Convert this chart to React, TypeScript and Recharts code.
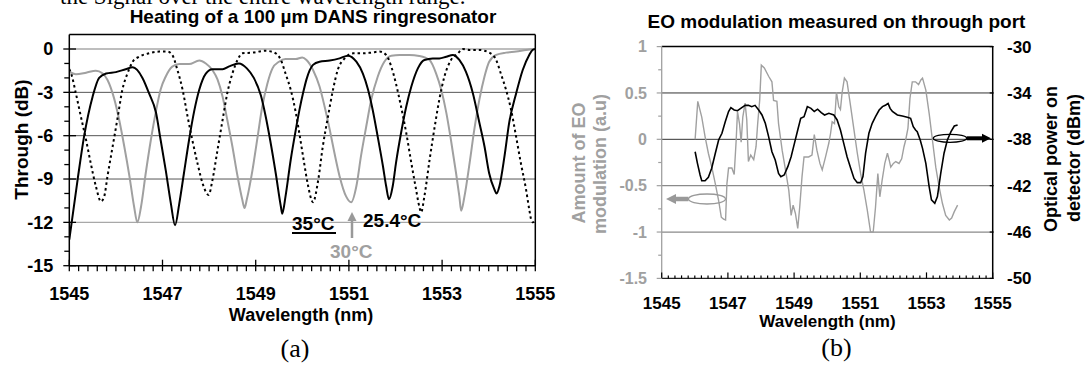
import React from 'react';
import { LineChart, Line, XAxis, YAxis, ReferenceLine } from 'recharts';

const SANS = '"Liberation Sans", Arial, sans-serif';
const SERIF = '"Liberation Serif", "Times New Roman", serif';

// ---------- shared tick labels ----------
const wavelengthTicks = [1545, 1547, 1549, 1551, 1553, 1555];
const throughTicks = [0, -3, -6, -9, -12, -15];
const eoTicks = [1, 0.5, 0, -0.5, -1, -1.5];
const powerTicks = [-30, -34, -38, -42, -46, -50];

// ---------- chart (a): through-port transmission (wavelength nm, dB) ----------
const trace25C: [number, number][] = [
  [1545.0, -1.4], [1545.04, -1.7], [1545.14, -3.06], [1545.25, -4.7], [1545.36, -6.3], [1545.46, -7.9],
  [1545.57, -9.5], [1545.68, -10.55], [1545.75, -10.2], [1545.82, -8.8], [1545.93, -6.75], [1546.04, -4.7],
  [1546.14, -2.8], [1546.25, -1.68], [1546.36, -0.88], [1546.5, -0.53], [1546.71, -0.3], [1546.93, -0.18],
  [1547.11, -0.18], [1547.21, -0.41], [1547.32, -1.45], [1547.43, -2.8], [1547.54, -4.7], [1547.64, -6.3],
  [1547.75, -7.9], [1547.86, -9.3], [1547.99, -10.1], [1548.07, -9.1], [1548.18, -7.0], [1548.29, -4.9],
  [1548.39, -3.06], [1548.5, -1.7], [1548.61, -0.76], [1548.71, -0.3], [1548.93, -0.25], [1549.21, -0.12],
  [1549.43, -0.3], [1549.54, -0.76], [1549.64, -1.7], [1549.75, -2.8], [1549.86, -4.4], [1549.96, -6.3],
  [1550.04, -7.9], [1550.12, -9.4], [1550.23, -10.6], [1550.34, -9.1], [1550.44, -6.75], [1550.55, -4.7],
  [1550.66, -2.8], [1550.76, -1.45], [1550.91, -0.65], [1551.09, -0.3], [1551.3, -0.3], [1551.48, -0.25],
  [1551.66, -0.18], [1551.8, -0.41], [1551.91, -1.22], [1552.01, -2.4], [1552.12, -4.0], [1552.23, -5.8],
  [1552.34, -7.9], [1552.44, -9.7], [1552.51, -10.9], [1552.55, -11.3], [1552.62, -10.2], [1552.73, -7.7],
  [1552.84, -5.4], [1552.94, -3.5], [1553.05, -1.9], [1553.19, -0.76], [1553.34, -0.3], [1553.44, 0.0],
  [1553.59, -0.07], [1553.8, -0.07], [1554.01, -0.25], [1554.16, -0.76], [1554.26, -1.7], [1554.37, -2.8],
  [1554.48, -4.2], [1554.59, -6.1], [1554.69, -7.9], [1554.8, -9.7], [1554.87, -11.1], [1554.92, -11.9],
  [1554.95, -12.0], [1555.0, -11.8],
];

const trace30C: [number, number][] = [
  [1545.0, -1.57], [1545.14, -1.75], [1545.36, -1.64], [1545.57, -1.5], [1545.71, -1.68], [1545.82, -2.14],
  [1545.96, -3.4], [1546.07, -4.9], [1546.18, -6.75], [1546.29, -8.8], [1546.39, -10.9], [1546.46, -12.0],
  [1546.54, -10.9], [1546.64, -8.6], [1546.75, -6.3], [1546.86, -4.3], [1546.96, -2.8], [1547.07, -1.9],
  [1547.21, -1.22], [1547.36, -1.04], [1547.57, -1.04], [1547.79, -0.8], [1547.93, -1.0], [1548.07, -1.45],
  [1548.18, -2.1], [1548.29, -3.3], [1548.39, -4.9], [1548.5, -6.75], [1548.61, -8.8], [1548.71, -10.4],
  [1548.76, -11.0], [1548.81, -10.4], [1548.93, -8.4], [1549.04, -6.1], [1549.14, -4.0], [1549.25, -2.4],
  [1549.36, -1.34], [1549.5, -0.88], [1549.64, -0.7], [1549.86, -0.7], [1550.0, -0.58], [1550.09, -0.76],
  [1550.23, -1.45], [1550.37, -2.6], [1550.48, -4.0], [1550.59, -5.6], [1550.69, -7.2], [1550.8, -8.8],
  [1550.94, -10.2], [1551.05, -10.6], [1551.16, -9.5], [1551.26, -7.4], [1551.37, -5.4], [1551.48, -3.5],
  [1551.62, -1.9], [1551.76, -0.88], [1551.91, -0.46], [1552.09, -0.41], [1552.3, -0.41], [1552.51, -0.48],
  [1552.73, -0.76], [1552.87, -1.68], [1552.98, -2.8], [1553.09, -4.4], [1553.19, -6.3], [1553.3, -8.6],
  [1553.37, -10.2], [1553.41, -11.2], [1553.48, -10.2], [1553.59, -7.9], [1553.69, -5.6], [1553.8, -3.5],
  [1553.91, -1.9], [1554.01, -0.88], [1554.16, -0.41], [1554.37, -0.25], [1554.59, -0.18], [1554.8, -0.07],
  [1555.0, 0.0],
];

const trace35C: [number, number][] = [
  [1545.0, -13.2], [1545.18, -9.0], [1545.32, -6.0], [1545.5, -3.3], [1545.64, -2.0], [1545.79, -1.7],
  [1546.0, -1.6], [1546.21, -1.4], [1546.36, -1.27], [1546.57, -2.0], [1546.71, -3.06], [1546.86, -4.4],
  [1546.96, -6.3], [1547.07, -8.4], [1547.18, -10.7], [1547.27, -12.2], [1547.36, -10.7], [1547.46, -8.6],
  [1547.57, -6.3], [1547.68, -4.3], [1547.79, -2.8], [1547.93, -1.7], [1548.07, -1.4], [1548.29, -1.4],
  [1548.43, -1.2], [1548.64, -1.0], [1548.81, -1.34], [1548.96, -2.0], [1549.11, -3.2], [1549.21, -4.6],
  [1549.31, -6.3], [1549.43, -8.6], [1549.54, -10.9], [1549.57, -11.4], [1549.64, -10.2], [1549.75, -7.7],
  [1549.86, -5.6], [1549.94, -4.2], [1550.02, -3.0], [1550.09, -2.1], [1550.23, -1.1], [1550.37, -0.88],
  [1550.59, -0.8], [1550.8, -0.65], [1550.98, -0.46], [1551.16, -0.88], [1551.3, -1.7], [1551.41, -2.8],
  [1551.51, -4.2], [1551.62, -6.1], [1551.73, -8.1], [1551.8, -9.5], [1551.86, -10.4], [1551.94, -9.5],
  [1552.01, -7.9], [1552.12, -5.8], [1552.23, -4.0], [1552.34, -2.6], [1552.48, -1.34], [1552.62, -0.76],
  [1552.8, -0.65], [1552.94, -0.65], [1553.09, -0.53], [1553.23, -0.41], [1553.37, -0.76], [1553.51, -1.57],
  [1553.66, -3.06], [1553.8, -5.1], [1553.91, -6.75], [1554.01, -8.6], [1554.12, -9.7], [1554.17, -10.0],
  [1554.23, -9.5], [1554.34, -7.4], [1554.44, -5.1], [1554.59, -3.06], [1554.73, -1.45], [1554.87, -0.41],
  [1554.94, -0.07], [1555.0, 0.0],
];

// ---------- chart (b): EO modulation (a.u.) and optical power (dBm) ----------
const eoModulation: [number, number][] = [
  [1546.01, 0.0], [1546.09, 0.41], [1546.21, 0.24], [1546.31, 0.03], [1546.41, -0.15], [1546.52, -0.31],
  [1546.62, -0.48], [1546.72, -0.66], [1546.8, -0.84], [1546.87, -0.86], [1546.93, -0.87], [1546.97, -0.48],
  [1547.02, -0.31], [1547.12, -0.31], [1547.19, -0.38], [1547.25, -0.01], [1547.29, 0.3], [1547.35, 0.17],
  [1547.4, -0.03], [1547.45, 0.24], [1547.52, 0.39], [1547.57, 0.21], [1547.62, -0.24], [1547.69, -0.17],
  [1547.78, -0.22], [1547.85, -0.08], [1547.9, 0.17], [1547.96, 0.42], [1548.01, 0.8], [1548.1, 0.77],
  [1548.23, 0.68], [1548.33, 0.62], [1548.38, 0.42], [1548.48, 0.41], [1548.53, 0.17], [1548.64, -0.12],
  [1548.74, -0.33], [1548.84, -0.55], [1548.91, -0.82], [1548.97, -0.71], [1549.04, -0.8], [1549.11, -0.96],
  [1549.17, -0.73], [1549.24, -0.4], [1549.3, -0.19], [1549.44, -0.19], [1549.54, -0.17], [1549.61, 0.05],
  [1549.69, -0.12], [1549.78, -0.26], [1549.85, -0.33], [1549.95, -0.19], [1550.05, -0.04], [1550.1, 0.06],
  [1550.15, 0.19], [1550.22, 0.17], [1550.28, 0.51], [1550.35, 0.35], [1550.4, 0.32], [1550.45, 0.5],
  [1550.52, 0.66], [1550.6, 0.62], [1550.71, 0.35], [1550.81, 0.1], [1550.91, -0.15], [1551.01, -0.37],
  [1551.11, -0.55], [1551.21, -0.76], [1551.31, -1.0], [1551.39, -1.0], [1551.46, -0.73], [1551.53, -0.37],
  [1551.59, -0.62], [1551.66, -0.44], [1551.74, -0.26], [1551.82, -0.15], [1551.87, -0.22], [1551.92, -0.3],
  [1552.0, -0.26], [1552.07, -0.24], [1552.17, -0.26], [1552.25, -0.21], [1552.32, -0.08], [1552.37, -0.01],
  [1552.44, 0.12], [1552.5, 0.44], [1552.57, 0.62], [1552.67, 0.62], [1552.76, 0.59], [1552.83, 0.64],
  [1552.88, 0.66], [1552.98, 0.53], [1553.08, 0.28], [1553.18, -0.01], [1553.28, -0.3], [1553.38, -0.51],
  [1553.48, -0.69], [1553.58, -0.82], [1553.69, -0.87], [1553.76, -0.85], [1553.84, -0.78], [1553.94, -0.71],
];

const opticalPower: [number, number][] = [
  [1546.01, -39.07], [1546.08, -40.07], [1546.16, -41.08], [1546.21, -41.57], [1546.31, -41.57], [1546.41, -41.28],
  [1546.51, -40.5], [1546.62, -39.2], [1546.72, -38.06], [1546.82, -37.48], [1546.92, -36.48], [1547.02, -35.6],
  [1547.09, -35.27], [1547.19, -35.47], [1547.29, -35.53], [1547.42, -35.27], [1547.52, -35.07], [1547.62, -35.07],
  [1547.72, -35.18], [1547.82, -35.07], [1547.93, -35.47], [1548.03, -35.9], [1548.13, -36.62], [1548.23, -37.77],
  [1548.33, -39.07], [1548.43, -39.79], [1548.53, -40.94], [1548.6, -41.22], [1548.7, -41.08], [1548.81, -40.36],
  [1548.91, -39.5], [1549.01, -38.35], [1549.11, -37.2], [1549.2, -36.19], [1549.3, -36.05], [1549.4, -35.18],
  [1549.51, -35.33], [1549.61, -35.6], [1549.71, -35.4], [1549.82, -35.7], [1549.92, -35.9], [1550.05, -35.76],
  [1550.2, -35.9], [1550.3, -36.33], [1550.4, -37.2], [1550.5, -38.35], [1550.6, -39.5], [1550.71, -40.5],
  [1550.81, -41.37], [1550.91, -41.74], [1551.01, -41.74], [1551.08, -41.22], [1551.16, -39.2], [1551.26, -37.48],
  [1551.36, -36.62], [1551.46, -36.05], [1551.57, -35.47], [1551.67, -35.18], [1551.77, -35.04], [1551.84, -34.9],
  [1551.9, -35.33], [1551.97, -35.6], [1552.12, -35.9], [1552.27, -35.99], [1552.42, -36.1], [1552.52, -36.19],
  [1552.6, -36.91], [1552.67, -37.2], [1552.72, -37.34], [1552.81, -38.06], [1552.88, -38.78], [1552.98, -40.07],
  [1553.08, -42.08], [1553.15, -43.23], [1553.25, -43.52], [1553.33, -42.94], [1553.43, -40.94], [1553.53, -39.2],
  [1553.63, -38.06], [1553.74, -37.34], [1553.84, -36.85], [1553.94, -36.76],
];

// ---------- helpers ----------
const toPts = (arr: [number, number][]) => arr.map(([x, y]) => ({ x, y }));
const round = (v: number) => Math.round(v * 1000) / 1000;
const isMajor = (v: number, list: number[]) => list.some((m) => Math.abs(m - v) < 1e-6);

const xMinor = Array.from({ length: 51 }, (_, i) => round(1545 + i * 0.2));
const yMinorA = Array.from({ length: 16 }, (_, i) => -15 + i);
const yMinorB = Array.from({ length: 11 }, (_, i) => round(-1.5 + i * 0.25));

const GRAY = '#a0a0a0';

function XTickA(props: any) {
  const { x, y, payload } = props;
  const major = isMajor(payload.value, wavelengthTicks);
  return (
    <g>
      <line x1={x} x2={x} y1={major ? y - 6 : y} y2={y + 5.5} stroke="#000" strokeWidth={1.3} />
      {major && (
        <text x={x} y={y + 34.5} textAnchor="middle" fontFamily={SANS} fontWeight="bold" fontSize={18} fill="#000">
          {payload.value}
        </text>
      )}
    </g>
  );
}

function YTickA(props: any) {
  const { x, y, payload } = props;
  const major = isMajor(payload.value, throughTicks);
  return (
    <g>
      <line x1={major ? x - 6 : x - 5} x2={major ? x + 6.7 : x} y1={y} y2={y} stroke="#000" strokeWidth={1.3} />
      {major && (
        <text x={x - 16} y={y + 6.4} textAnchor="end" fontFamily={SANS} fontWeight="bold" fontSize={18} fill="#000">
          {payload.value}
        </text>
      )}
    </g>
  );
}

function XTickB(props: any) {
  const { x, y, payload } = props;
  const major = isMajor(payload.value, wavelengthTicks);
  return (
    <g>
      <line x1={x} x2={x} y1={major ? y - 6 : y - 3} y2={y} stroke="#000" strokeWidth={1.2} />
      {major && (
        <text x={x} y={y + 31} textAnchor="middle" fontFamily={SANS} fontWeight="bold" fontSize={17} fill="#000">
          {payload.value}
        </text>
      )}
    </g>
  );
}

function YTickBLeft(props: any) {
  const { x, y, payload } = props;
  const major = isMajor(payload.value, eoTicks);
  return (
    <g>
      <line x1={major ? x - 5 : x - 3.5} x2={x} y1={y} y2={y} stroke={GRAY} strokeWidth={1.2} />
      {major && (
        <text x={x - 14.7} y={y + 5.8} textAnchor="end" fontFamily={SANS} fontWeight="bold" fontSize={16} fill={GRAY}>
          {payload.value}
        </text>
      )}
    </g>
  );
}

function YTickBRight(props: any) {
  const { x, y, payload } = props;
  return (
    <g>
      <line x1={x - 3} x2={x + 1} y1={y} y2={y} stroke="#000" strokeWidth={1.2} />
      <text x={x + 14.3} y={y + 6} textAnchor="start" fontFamily={SANS} fontWeight="bold" fontSize={17} fill="#000">
        {payload.value}
      </text>
    </g>
  );
}

function ChartA() {
  return (
    <LineChart width={560} height={367} margin={{ top: 34.56, right: 24.7, bottom: 71.3, left: 9.3 }}>
      <XAxis
        dataKey="x" type="number" domain={[1545, 1555]} ticks={xMinor} interval={0}
        tickSize={0} tickMargin={0} tickLine={false} height={30} allowDataOverflow
        axisLine={{ stroke: '#000', strokeWidth: 1.5 }}
        tick={(p: any) => <XTickA {...p} />}
      />
      <YAxis
        type="number" domain={[-15, 1]} ticks={yMinorA} interval={0} width={60}
        tickSize={0} tickMargin={0} tickLine={false} allowDataOverflow
        axisLine={{ stroke: '#000', strokeWidth: 1.5 }}
        tick={(p: any) => <YTickA {...p} />}
      />
      <ReferenceLine y={0} stroke="#a8a8a8" strokeWidth={1.3} />
      <ReferenceLine y={-3} stroke="#555" strokeWidth={1} />
      <ReferenceLine y={-6} stroke="#555" strokeWidth={1} />
      <ReferenceLine y={-9} stroke="#555" strokeWidth={1} />
      <ReferenceLine y={-12} stroke="#a8a8a8" strokeWidth={1.3} />
      <ReferenceLine y={1} stroke="#000" strokeWidth={1.5} />
      <ReferenceLine x={1555} stroke="#000" strokeWidth={1.5} />
      <Line data={toPts(trace30C)} dataKey="y" type="monotone" stroke={GRAY} strokeWidth={2} dot={false} isAnimationActive={false} />
      <Line data={toPts(trace25C)} dataKey="y" type="monotone" stroke="#000" strokeWidth={2} strokeDasharray="2.5 3" dot={false} isAnimationActive={false} />
      <Line data={toPts(trace35C)} dataKey="y" type="monotone" stroke="#000" strokeWidth={2} dot={false} isAnimationActive={false} />
    </LineChart>
  );
}

function ChartB() {
  return (
    <LineChart width={526} height={367} margin={{ top: 46.6, right: 33.3, bottom: 58.6, left: 41.7 }}>
      <XAxis
        dataKey="x" type="number" domain={[1545, 1555]} ticks={xMinor} interval={0}
        tickSize={0} tickMargin={0} tickLine={false} height={30} allowDataOverflow
        axisLine={{ stroke: '#222', strokeWidth: 1.3 }}
        tick={(p: any) => <XTickB {...p} />}
      />
      <YAxis
        yAxisId="eo" type="number" domain={[-1.5, 1]} ticks={yMinorB} interval={0} width={60}
        tickSize={0} tickMargin={0} tickLine={false} allowDataOverflow
        axisLine={{ stroke: GRAY, strokeWidth: 1.3 }}
        tick={(p: any) => <YTickBLeft {...p} />}
      />
      <YAxis
        yAxisId="pw" orientation="right" type="number" domain={[-50, -30]} ticks={powerTicks} interval={0} width={60}
        tickSize={0} tickMargin={0} tickLine={false} allowDataOverflow
        axisLine={{ stroke: '#000', strokeWidth: 1.5 }}
        tick={(p: any) => <YTickBRight {...p} />}
      />
      <ReferenceLine yAxisId="eo" y={0.5} stroke="#333" strokeWidth={1} />
      <ReferenceLine yAxisId="eo" y={0} stroke="#333" strokeWidth={1} />
      <ReferenceLine yAxisId="eo" y={-0.5} stroke="#8a8a8a" strokeWidth={1.2} />
      <ReferenceLine yAxisId="eo" y={-1} stroke="#8a8a8a" strokeWidth={1.2} />
      <ReferenceLine yAxisId="eo" y={1} stroke="#000" strokeWidth={1.5} />
      <Line yAxisId="eo" data={toPts(eoModulation)} dataKey="y" type="linear" stroke={GRAY} strokeWidth={1.4} dot={false} isAnimationActive={false} />
      <Line yAxisId="pw" data={toPts(opticalPower)} dataKey="y" type="linear" stroke="#000" strokeWidth={1.6} dot={false} isAnimationActive={false} />
    </LineChart>
  );
}

function Overlay() {
  const bold = { fontFamily: SANS, fontWeight: 'bold' as const };
  return (
    <svg width={1086} height={367} style={{ position: 'absolute', left: 0, top: 0, pointerEvents: 'none' }}>
      <text x={60} y={3.5} fontFamily={SERIF} fontSize={23} fill="#000">the Signal over the entire wavelength range.</text>
      {/* chart (a) texts */}
      <text x={313} y={23.3} textAnchor="middle" fontSize={19} fill="#000" {...bold}>Heating of a 100 µm DANS ringresonator</text>
      <text transform="translate(27.5,139.5) rotate(-90)" textAnchor="middle" fontSize={19} fill="#000" {...bold}>Through (dB)</text>
      <text x={301} y={320.5} textAnchor="middle" fontSize={18} fill="#000" {...bold}>Wavelength (nm)</text>
      <text x={295} y={357} textAnchor="middle" fontFamily={SERIF} fontSize={26} fill="#000">(a)</text>
      <text x={292} y={230} fontSize={19} fill="#000" {...bold}>35°C</text>
      <line x1={292} x2={336} y1={233} y2={233} stroke="#000" strokeWidth={2} />
      <line x1={352} x2={352} y1={238} y2={219} stroke="#999" strokeWidth={2.5} />
      <polygon points="352,212 347.5,221 356.5,221" fill="#999" />
      <text x={363} y={226.7} fontSize={19} fill="#000" {...bold}>25.4°C</text>
      <text x={330} y={258.3} fontSize={19} fill={GRAY} {...bold}>30°C</text>
      {/* chart (b) texts */}
      <text x={836.5} y={28.3} textAnchor="middle" fontSize={19} fill="#000" {...bold}>EO modulation measured on through port</text>
      <text transform="translate(585,163) rotate(-90)" textAnchor="middle" fontSize={18} fill={GRAY} {...bold}>Amount of EO</text>
      <text transform="translate(606,164) rotate(-90)" textAnchor="middle" fontSize={18} fill={GRAY} {...bold}>modulation (a.u)</text>
      <text transform="translate(1057,159) rotate(-90)" textAnchor="middle" fontSize={18} fill="#000" {...bold}>Optical power on</text>
      <text transform="translate(1079.5,158) rotate(-90)" textAnchor="middle" fontSize={18} fill="#000" {...bold}>detector (dBm)</text>
      <text x={827.5} y={327} textAnchor="middle" fontSize={17} fill="#000" {...bold}>Wavelength (nm)</text>
      <text x={836.5} y={356} textAnchor="middle" fontFamily={SERIF} fontSize={26} fill="#000">(b)</text>
      <ellipse cx={707} cy={199} rx={18.5} ry={5} stroke="#999" strokeWidth={1.3} fill="none" />
      <line x1={674} x2={688.5} y1={199} y2={199} stroke="#999" strokeWidth={4.5} />
      <polygon points="666,199 676,194 676,204" fill="#999" />
      <ellipse cx={950} cy={138.3} rx={16.7} ry={4} stroke="#000" strokeWidth={1.3} fill="none" />
      <line x1={966.7} x2={983} y1={138.3} y2={138.3} stroke="#000" strokeWidth={4} />
      <polygon points="991,138.3 982,133.8 982,142.8" fill="#000" />
    </svg>
  );
}

export default function App() {
  return (
    <div style={{ position: 'absolute', left: 0, top: 0, width: 1086, height: 367, background: '#fff', overflow: 'hidden' }}>
      <div style={{ position: 'absolute', left: 0, top: 0 }}>
        <ChartA />
      </div>
      <div style={{ position: 'absolute', left: 560, top: 0 }}>
        <ChartB />
      </div>
      <Overlay />
    </div>
  );
}
